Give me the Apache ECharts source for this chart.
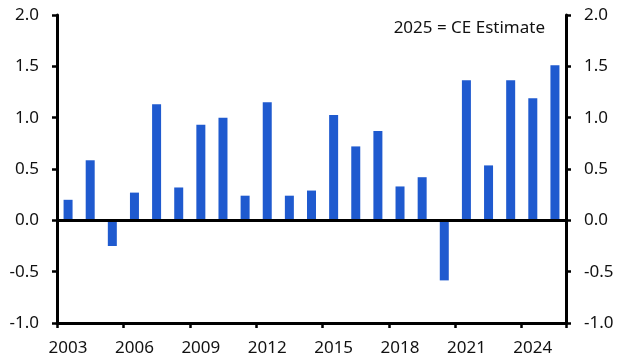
<!DOCTYPE html>
<html>
<head>
<meta charset="utf-8">
<script src="https://cdn.jsdelivr.net/npm/echarts@6/dist/echarts.min.js"></script>
<style>
html,body{margin:0;padding:0;background:#fff;}
#chart{width:631px;height:364px;}
</style>
</head>
<body>
<div id="chart"></div>
<script>
const years = ['2003','2004','2005','2006','2007','2008','2009','2010','2011','2012','2013','2014','2015','2016','2017','2018','2019','2020','2021','2022','2023','2024','2025'];
const values = [0.20,0.585,-0.25,0.27,1.13,0.32,0.93,1.00,0.24,1.15,0.24,0.29,1.025,0.72,0.87,0.33,0.42,-0.585,1.365,0.535,1.365,1.19,1.51];
const yTicks = [-1.0,-0.5,0.0,0.5,1.0,1.5,2.0];
const note = '2025 = CE Estimate';

const chart = echarts.init(document.getElementById('chart'), null, {renderer:'canvas'});
const font = 'Noto Sans';
const yAxisCommon = {
  type:'value', min:-1, max:2, interval:0.5,
  axisLine:{show:true, lineStyle:{color:'#000', width:3}},
  axisTick:{show:true, length:5, lineStyle:{color:'#000', width:2.5}},
  splitLine:{show:false},
  axisLabel:{color:'#111', fontSize:17, fontFamily:font, margin:18,
    formatter:v => v.toFixed(1)}
};
chart.setOption({
  animation:false,
  grid:{left:57, right:65, top:15, bottom:41, containLabel:false},
  xAxis:{
    type:'category', data:years, boundaryGap:true,
    axisLine:{show:true, onZero:false, lineStyle:{color:'#000', width:3}},
    axisTick:{show:true, length:5, interval:2, alignWithLabel:false, lineStyle:{color:'#000', width:2.5}},
    axisLabel:{interval:2, color:'#111', fontSize:17, fontFamily:font, margin:17}
  },
  yAxis:[
    Object.assign({}, yAxisCommon, {position:'left'}),
    Object.assign({}, yAxisCommon, {position:'right'})
  ],
  graphic:[{
    type:'text', right:86, top:20,
    style:{text:note, fill:'#111', font:'17px "Noto Sans"'}
  }],
  series:[{
    type:'bar', data:values, barWidth:9, yAxisIndex:0,
    itemStyle:{color:'#1f5acf'},
    markLine:{
      silent:true, symbol:'none', label:{show:false},
      lineStyle:{color:'#000', width:3, type:'solid'},
      data:[{yAxis:0}]
    }
  }]
});
</script>
</body>
</html>
